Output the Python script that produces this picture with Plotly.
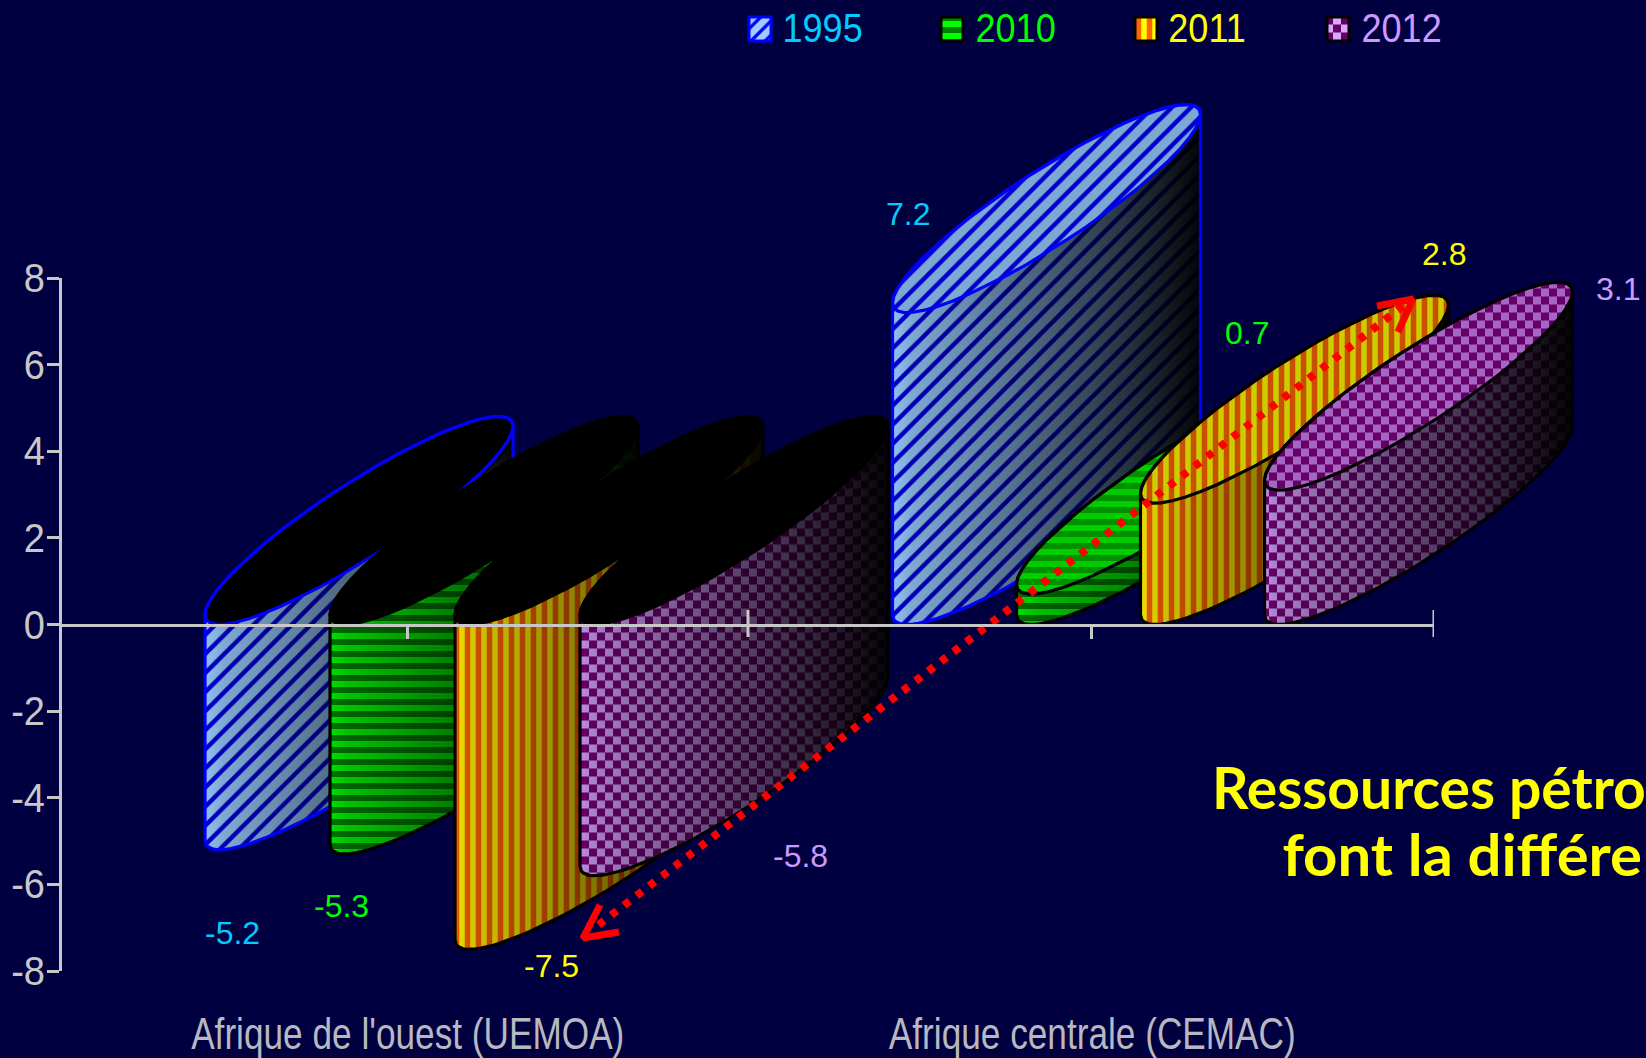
import math
import plotly.graph_objects as go

# ---------- data ----------
categories = ["Afrique de l'ouest (UEMOA)", "Afrique centrale (CEMAC)"]
years = ["1995", "2010", "2011", "2012"]
v1995 = [-5.2, 7.2]
v2010 = [-5.3, 0.7]
v2011 = [-7.5, 2.8]
v2012 = [-5.8, 3.1]
y_ticks = [-8, -6, -4, -2, 0, 2, 4, 6, 8]

# ---------- frame (pixels) ----------
W, H = 1646, 1058
L, R, T, B = 62, 1434, 278, 971
ZERO = (T + B) / 2.0
PX_X = (R - L) / 2.0      # pixels per category
PX_Y = (B - T) / 16.0     # pixels per unit


def px_x(p):
    return (p - L) / PX_X - 0.5


def px_y(p):
    return (B - p) / PX_Y - 8


def paper_x(p):
    return p / W


def paper_y(p):
    return 1 - p / H


# ---------- cylinder geometry ----------
BAR_W = 308 / PX_X
BAR_D = 208 / PX_Y
GROUP_X0 = [px_x(205), px_x(892.5)]
GROUP_STEP = [125 / PX_X, 124 / PX_X]
PHI = math.radians(25)
N = 48


def arc(x0, low, t0, t1):
    cx = x0 + BAR_W / 2
    cy = low + BAR_D / 2
    pts = []
    for i in range(N + 1):
        t = t0 + (t1 - t0) * i / N
        pts.append((cx + BAR_W / 2 * math.cos(t), cy + BAR_D / 2 * math.cos(t - PHI)))
    return pts


def cap(x0, low):
    return arc(x0, low, 0, 2 * math.pi)


def body(x0, low, high):
    return arc(x0, high, math.pi, 0) + arc(x0, low, 0, -math.pi)


def close(p):
    return p + [p[0]]


def xs(p):
    return [q[0] for q in p]


def ys(p):
    return [q[1] for q in p]


def clip_poly(subject, clipper):
    area = sum(clipper[i][0] * clipper[(i + 1) % len(clipper)][1] - clipper[(i + 1) % len(clipper)][0] * clipper[i][1]
               for i in range(len(clipper)))
    sign = 1 if area > 0 else -1
    out = subject
    for i in range(len(clipper)):
        a, b = clipper[i], clipper[(i + 1) % len(clipper)]
        if a == b:
            continue
        side = lambda q: sign * ((b[0] - a[0]) * (q[1] - a[1]) - (b[1] - a[1]) * (q[0] - a[0]))
        new = []
        for j in range(len(out)):
            c, d = out[j], out[(j + 1) % len(out)]
            sc, sd = side(c), side(d)
            if sc >= 0:
                new.append(c)
            if sc * sd < 0:
                k = sc / (sc - sd)
                new.append((c[0] + k * (d[0] - c[0]), c[1] + k * (d[1] - c[1])))
        out = new
        if not out:
            return []
    return out


CELL_X, CELL_Y = 8 / PX_X, 8 / PX_Y


def checker(poly):
    X, Y = [], []
    i0, i1 = math.floor(min(xs(poly)) / CELL_X), math.ceil(max(xs(poly)) / CELL_X)
    j0, j1 = math.floor(min(ys(poly)) / CELL_Y), math.ceil(max(ys(poly)) / CELL_Y)
    for i in range(i0, i1):
        for j in range(j0, j1):
            if (i + j) % 2:
                continue
            sq = [(i * CELL_X, j * CELL_Y), ((i + 1) * CELL_X, j * CELL_Y),
                  ((i + 1) * CELL_X, (j + 1) * CELL_Y), (i * CELL_X, (j + 1) * CELL_Y)]
            c = clip_poly(sq, poly)
            if len(c) >= 3:
                c = close(c)
                X += xs(c) + [None]
                Y += ys(c) + [None]
    return X, Y


# ---------- styles per series ----------
STYLES = [
    dict(vals=v1995, edge="#0000FF", shape="/", size=13.5, sol=0.33, fg="#0000CC", bg="#90C0F0", capbg="#7DA8D4",
         text="#00CCFF", swatch_bg="#A0CCFF", swatch_fg="#0000FF"),
    dict(vals=v2010, edge="#000000", shape="-", size=12, sol=0.5, fg="#006F00", bg="#00DD00", capbg="#00CC00",
         text="#00FF00", swatch_bg="#00FF00", swatch_fg="#008000"),
    dict(vals=v2011, edge="#000000", shape="|", size=11, sol=0.5, fg="#E85A00", bg="#EEE000", capbg="#CCCC00",
         text="#FFFF00", swatch_bg="#FFFF00", swatch_fg="#FF6600"),
    dict(vals=v2012, edge="#000000", shape="check", size=8, sol=0.5, fg="#660066", bg="#B98CDF", capbg="#A468C4",
         text="#CC99FF", swatch_bg="#D8A8FF", swatch_fg="#660066"),
]
SHADE = [[0, "rgba(0,0,0,0)"], [0.06, "rgba(0,0,0,0.12)"], [0.4, "rgba(0,0,0,0.42)"],
         [0.7, "rgba(0,0,0,0.68)"], [0.85, "rgba(0,0,0,0.82)"], [1, "rgba(0,0,0,0.97)"]]

fig = go.Figure()
COMMON = dict(hoverinfo="skip", showlegend=False)
EDGE_W = 3.2


def patterned(poly, st, bg, fg=None):
    fg = fg or st["fg"]
    p = close(poly)
    if st["shape"] == "check":
        fig.add_trace(go.Scatter(x=xs(p), y=ys(p), mode="lines", fill="toself", fillcolor=bg,
                                 line=dict(width=0, color=bg), **COMMON))
        cx, cy = checker(poly)
        fig.add_trace(go.Scatter(x=cx, y=cy, mode="lines", fill="toself", fillcolor=fg,
                                 line=dict(width=0, color=fg), **COMMON))
    else:
        fig.add_trace(go.Scatter(x=xs(p), y=ys(p), mode="lines", fill="toself", fillcolor=bg,
                                 fillpattern=dict(shape=st["shape"], fgcolor=fg, bgcolor=bg,
                                                  size=st["size"], solidity=st["sol"], fillmode="replace"),
                                 line=dict(width=0, color=bg), **COMMON))


for c in range(2):
    for s, st in enumerate(STYLES):
        v = st["vals"][c]
        x0 = GROUP_X0[c] + s * GROUP_STEP[c]
        low, high = min(v, 0), max(v, 0)
        b = body(x0, low, high)
        patterned(b, st, st["bg"])
        pb = close(b)
        fig.add_trace(go.Scatter(x=xs(pb), y=ys(pb), mode="lines", fill="toself",
                                 fillgradient=dict(type="horizontal", colorscale=SHADE),
                                 line=dict(width=EDGE_W, color=st["edge"]), **COMMON))
        top = cap(x0, high)
        pt = close(top)
        if v < 0:
            fig.add_trace(go.Scatter(x=xs(pt), y=ys(pt), mode="lines", fill="toself", fillcolor="#000000",
                                     line=dict(width=EDGE_W, color=st["edge"]), **COMMON))
        else:
            patterned(top, st, st["capbg"], "#C85000" if st["shape"] == "|" else ("#009000" if st["shape"] == "-" else None))
            fig.add_trace(go.Scatter(x=xs(pt), y=ys(pt), mode="lines", line=dict(width=EDGE_W, color=st["edge"]), **COMMON))

# legend swatches
SWATCH_X = [749, 941, 1135, 1327]
for st, sx in zip(STYLES, SWATCH_X):
    sq = [(px_x(sx), px_y(41)), (px_x(sx + 22), px_y(41)), (px_x(sx + 22), px_y(17)), (px_x(sx), px_y(17))]
    swatch = dict(st, size={"/": 10, "-": 12, "|": 11, "check": 8}[st["shape"]], fg=st["swatch_fg"])
    patterned(sq, swatch, st["swatch_bg"])
    p = close(sq)
    fig.add_trace(go.Scatter(x=xs(p), y=ys(p), mode="lines", line=dict(width=3, color=st["edge"]), **COMMON))

# red double-headed dotted arrow
fig.add_trace(go.Scatter(x=[px_x(1403), px_x(592)], y=[px_y(306), px_y(930)], mode="lines",
                         line=dict(width=8, color="#FF0000", dash="7px,9px"), **COMMON))
fig.add_trace(go.Scatter(x=[px_x(1377), px_x(1413), px_x(1398), None, px_x(600), px_x(583), px_x(619)],
                         y=[px_y(306), px_y(299), px_y(332), None, px_y(905), px_y(938), px_y(932)],
                         mode="lines", line=dict(width=7, color="#FF0000"), **COMMON))

# axes subplot (drawn above the bars): long separator ticks
GREY = "#C8C8C8"
fig.add_trace(go.Scatter(x=[0.5, 0.5, None, 1.5, 1.5],
                         y=[px_y(610), px_y(637), None, px_y(610), px_y(637)],
                         xaxis="x2", yaxis="y2", mode="lines", line=dict(width=3, color=GREY), **COMMON))

annotations = []
# value labels
LABEL_POS = [[(232, 933), (908, 214)], [(341, 906), (1247, 333)], [(551, 966), (1444, 254)], [(800, 856), (1618, 289)]]
for st, pos in zip(STYLES, LABEL_POS):
    for v, (px, py) in zip(st["vals"], pos):
        annotations.append(dict(xref="paper", yref="paper", x=paper_x(px), y=paper_y(py), text=str(v),
                                showarrow=False, xanchor="center", yanchor="middle",
                                font=dict(family="Liberation Sans", size=32, color=st["text"])))
# legend labels
LEGEND_TC = [822.5, 1015, 1207, 1401]
for st, yr, tx in zip(STYLES, years, LEGEND_TC):
    annotations.append(dict(xref="paper", yref="paper", x=paper_x(tx), y=paper_y(28), text=yr, showarrow=False,
                            xanchor="center", yanchor="middle", borderpad=0,
                            font=dict(family="Liberation Sans", size=41, color=st["text"])))
# category labels
for cat, cx in zip(categories, [408, 1092]):
    annotations.append(dict(xref="paper", yref="paper", x=paper_x(cx), y=paper_y(1033), text=cat, showarrow=False,
                            xanchor="center", yanchor="middle", borderpad=0,
                            font=dict(family="Liberation Sans", size=44, color="#B8B8C0")))
# comment
for txt, tx, ty in [("Ressources pétro", 1429, 787), ("font la différe", 1462, 854)]:
    annotations.append(dict(xref="paper", yref="paper", x=paper_x(tx), y=paper_y(ty), text=txt, showarrow=False,
                            xanchor="center", yanchor="middle", borderpad=0,
                            font=dict(family="Lato", size=57, color="#FFFF00", weight="bold")))

fig.update_layout(
    width=W, height=H, autosize=False,
    margin=dict(l=0, r=0, t=0, b=0, pad=0),
    paper_bgcolor="#000040", plot_bgcolor="rgba(0,0,0,0)",
    showlegend=False,
    annotations=annotations,
    # full-canvas data axes carrying the bars (same scale as the visible axes)
    xaxis=dict(domain=[0, 1], range=[px_x(0), px_x(W)], visible=False),
    yaxis=dict(domain=[0, 1], range=[px_y(H), px_y(0)], visible=False),
    # visible axes
    xaxis2=dict(domain=[L / W, R / W], range=[-0.5, 1.5], anchor="free", position=1 - ZERO / H,
                showgrid=False, zeroline=False, showline=True, linecolor=GREY, linewidth=3,
                tickmode="array", tickvals=[px_x(407), 1], ticks="outside", ticklen=12, tickwidth=2.5,
                tickcolor=GREY, showticklabels=False, automargin=False),
    yaxis2=dict(domain=[1 - B / H, 1 - T / H], range=[-8, 8], anchor="x2", showgrid=False, zeroline=False,
                showline=True, linecolor=GREY, linewidth=3,
                tickmode="array", tickvals=y_ticks, ticktext=[str(t) for t in y_ticks],
                ticks="outside", ticklen=12, tickwidth=2.5, tickcolor=GREY, automargin=False,
                ticklabelstandoff=-6,
                tickfont=dict(family="Liberation Sans", size=40, color=GREY)),
)

# narrow the condensed-looking labels (text stays real text)
POST = """
document.body.style.margin='0';document.body.style.overflow='hidden';
(function(){
  function squeeze(el,k){ if(el.getAttribute('textLength')) return;
    var n=el.getComputedTextLength(); el.setAttribute('textLength',n*k); el.setAttribute('lengthAdjust','spacingAndGlyphs'); }
  function run(){
    document.querySelectorAll('.annotation-text').forEach(function(el){
      var t=el.textContent;
      if(t.indexOf('Afrique')===0) squeeze(el,0.80);
      else if(/^(1995|2010|2011|2012)$/.test(t)) squeeze(el,0.88);
      else if(t.indexOf('font la')===0) squeeze(el,1.05);
    });
    document.querySelectorAll('.ytick text, .y2tick text').forEach(function(el){ squeeze(el,0.95); });
  }
  run();
  var gd=document.getElementById('{plot_id}');
  if(gd && gd.on) gd.on('plotly_afterplot',run);
})();
"""
fig.write_html("out.html", post_script=POST, config=dict(displayModeBar=False))
